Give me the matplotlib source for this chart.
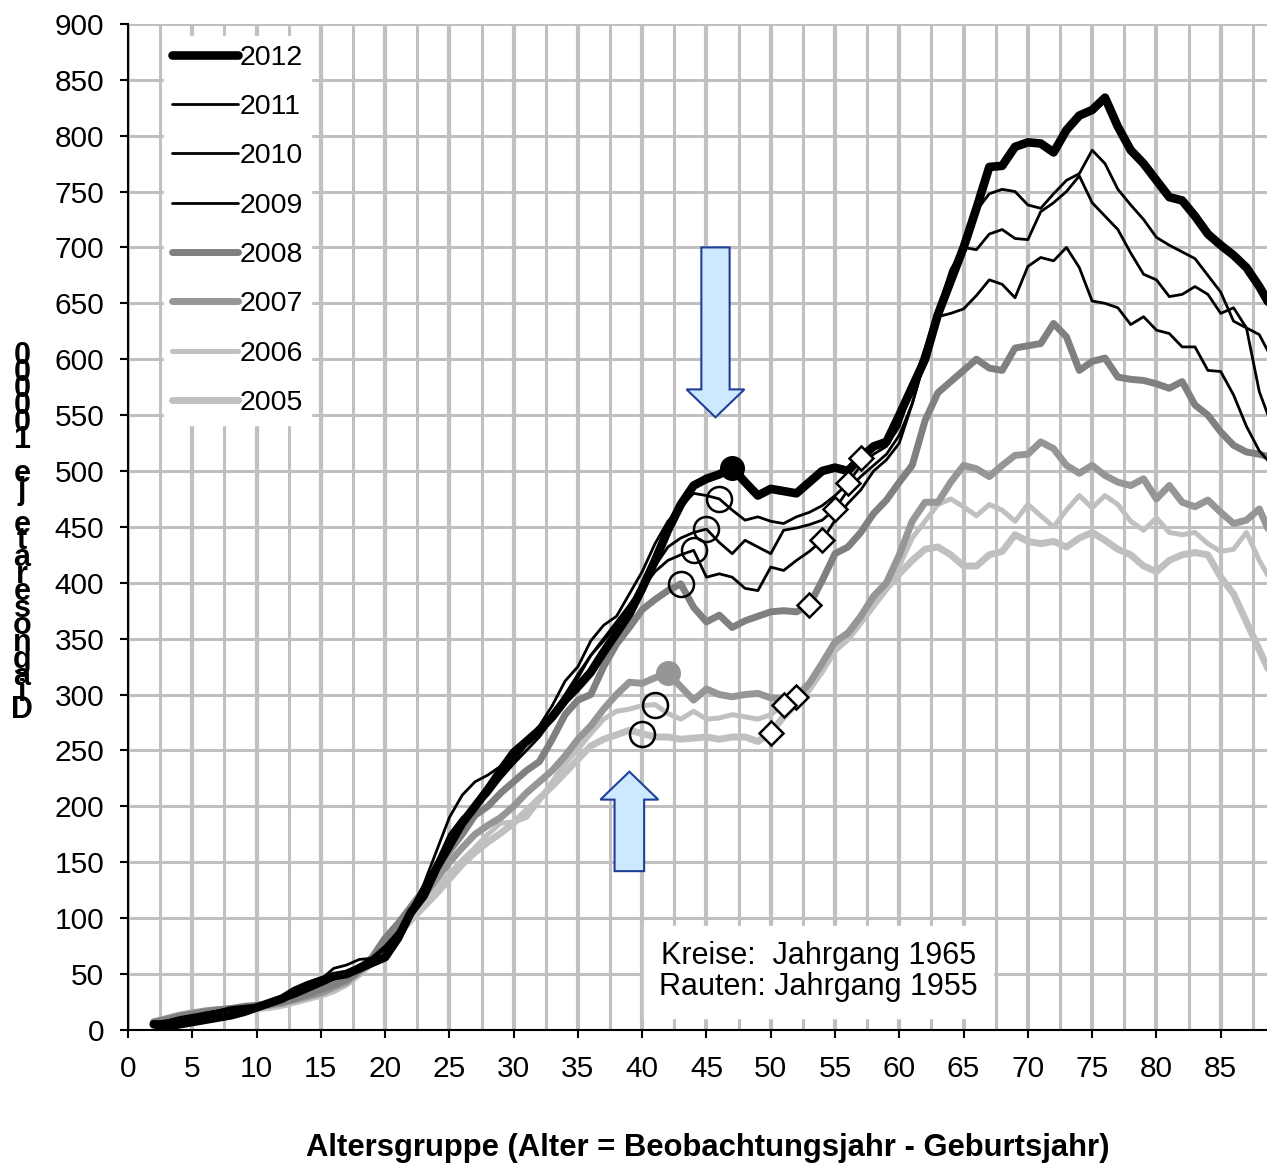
import numpy as np
import matplotlib
matplotlib.use("Agg")
import matplotlib.pyplot as plt
import matplotlib.patches as mpatches

plt.rcParams['font.family'] = ['Liberation Sans', 'DejaVu Sans']

# Altersgruppen 2..89
ages = np.arange(2, 90)

y2012 = [5, 3, 5, 7, 9, 11, 13, 16, 20, 24, 28, 35, 40, 44, 48, 50, 55, 60, 65,
         82, 105, 120, 145, 165, 185, 200, 215, 232, 248, 258, 268, 280, 295, 307,
         320, 338, 355, 372, 395, 420, 447, 470, 487, 493, 497, 503,
         490, 478, 484, 482, 480, 490, 500, 503, 500, 512, 522, 526, 550,
         575, 600, 640, 670, 700, 735, 772, 773, 790, 794, 793, 785, 805, 818, 823,
         834, 808, 787, 775, 760, 745, 742, 728, 712, 702, 693, 682, 665, 645]
y2011 = [6, 7, 9, 11, 13, 16, 18, 20, 22, 24, 28, 33, 40, 45, 55, 58, 63, 64, 72,
         85, 108, 130, 160, 190, 210, 222, 228, 236, 250, 260, 272, 290, 312, 325,
         348, 362, 370, 390, 410, 435, 455, 468, 480, 478, 475, 465,
         456, 459, 455, 453, 459, 463, 469, 478, 489, 505, 515, 522, 540,
         575, 610, 645, 675, 705, 733, 748, 752, 750, 738, 735, 748, 760, 766, 787,
         775, 752, 738, 725, 709, 702, 696, 690, 675, 660, 634, 628, 622, 600]
y2010 = [6, 8, 10, 12, 15, 17, 19, 21, 22, 24, 27, 32, 37, 42, 48, 52, 58, 63, 73,
         85, 105, 125, 150, 175, 190, 200, 210, 225, 238, 250, 262, 278, 295, 315,
         335, 350, 365, 380, 397, 415, 432, 440, 445, 448, 436, 426,
         438, 432, 426, 447, 449, 452, 456, 466, 483, 495, 505, 515, 532,
         560, 600, 645, 680, 700, 698, 712, 716, 708, 707, 732, 740, 750, 764, 740,
         728, 716, 695, 676, 671, 656, 658, 665, 658, 641, 646, 628, 571, 540]
y2009 = [7, 8, 11, 13, 15, 17, 20, 21, 22, 23, 26, 30, 35, 40, 45, 50, 58, 65, 75,
         88, 105, 122, 145, 165, 185, 200, 212, 228, 240, 255, 265, 282, 300, 318,
         335, 348, 362, 380, 395, 410, 420, 425, 429, 405, 408, 405,
         395, 393, 414, 411, 420, 428, 438, 456, 471, 483, 500, 510, 525,
         560, 600, 638, 641, 645, 657, 671, 667, 655, 683, 691, 688, 700, 682, 652,
         650, 646, 631, 638, 626, 623, 611, 611, 590, 589, 568, 540, 518, 505]
y2008 = [7, 9, 12, 14, 16, 18, 19, 21, 22, 23, 25, 28, 32, 36, 40, 45, 53, 65, 82,
         95, 110, 125, 145, 160, 175, 192, 200, 212, 222, 232, 240, 260, 282, 295,
         300, 325, 345, 360, 376, 385, 393, 399, 378, 365, 371, 360,
         366, 370, 374, 375, 374, 380, 402, 426, 432, 445, 462, 474, 490,
         505, 545, 570, 580, 590, 600, 592, 590, 610, 612, 614, 632, 620, 590, 598,
         601, 584, 582, 581, 578, 574, 580, 559, 550, 535, 523, 517, 515, 512]
y2007 = [7, 10, 13, 15, 17, 18, 19, 20, 21, 22, 24, 27, 30, 33, 38, 43, 52, 63, 78,
         92, 105, 120, 135, 150, 163, 175, 183, 190, 200, 212, 222, 232, 245, 260,
         272, 287, 300, 311, 310, 315, 319, 307, 295, 305, 300, 298,
         300, 301, 297, 296, 298, 310, 328, 347, 355, 370, 388, 400, 425,
         455, 472, 472, 490, 505, 502, 495, 505, 514, 515, 526, 520, 505, 498, 505,
         496, 490, 487, 493, 475, 487, 472, 468, 474, 463, 453, 456, 466, 440]
y2006 = [7, 10, 13, 15, 16, 17, 18, 19, 20, 21, 23, 26, 29, 32, 36, 42, 52, 62, 75,
         88, 102, 115, 128, 140, 152, 163, 175, 185, 186, 190, 205, 222, 238, 251,
         265, 278, 285, 287, 290, 291, 283, 278, 285, 278, 279, 282,
         280, 278, 282, 291, 296, 305, 320, 340, 352, 368, 385, 400, 415,
         440, 455, 470, 475, 468, 460, 470, 465, 455, 470, 460, 450, 465, 478, 467,
         478, 470, 455, 447, 458, 445, 443, 445, 435, 428, 430, 445, 420, 400]
y2005 = [7, 10, 13, 15, 16, 17, 18, 19, 19, 20, 22, 25, 28, 31, 35, 41, 50, 60, 72,
         85, 98, 110, 122, 135, 148, 159, 168, 176, 185, 196, 207, 218, 230, 242,
         254, 260, 264, 268, 265, 262, 262, 260, 261, 262, 260, 262,
         262, 258, 266, 280, 292, 305, 322, 340, 350, 365, 380, 395, 408,
         420, 430, 432, 425, 415, 415, 425, 428, 443, 437, 435, 437, 432, 440, 445,
         438, 430, 425, 415, 410, 420, 425, 427, 425, 405, 390, 365, 340, 315]

years = [2012, 2011, 2010, 2009, 2008, 2007, 2006, 2005]
series = [y2012, y2011, y2010, y2009, y2008, y2007, y2006, y2005]
colors = ['#000000', '#000000', '#000000', '#000000', '#808080', '#969696', '#c0c0c0', '#c0c0c0']
widths = [6.2, 2.0, 2.0, 2.0, 5.0, 5.0, 3.6, 5.0]

fig = plt.figure(figsize=(12.67, 11.65), dpi=100)
ax = fig.add_axes([0.101, 0.116, 0.899, 0.8635])

# Gitter
ax.set_xlim(0, 88.6)
ax.set_ylim(0, 900)
ax.set_xticks(np.arange(0, 90, 5))
ax.set_xticks(np.arange(2.5, 90, 5), minor=True)
ax.set_yticks(np.arange(0, 901, 50))
ax.grid(axis='x', which='major', color='#c0c0c0', lw=3.0, zorder=0)
ax.grid(axis='x', which='minor', color='#c0c0c0', lw=2.2, zorder=0)
ax.grid(axis='y', which='major', color='#c0c0c0', lw=2.2, zorder=0)
ax.set_axisbelow(True)
for s in ['top', 'right']:
    ax.spines[s].set_visible(False)
ax.spines['left'].set_linewidth(1.5)
ax.spines['bottom'].set_linewidth(1.5)
ax.tick_params(axis='both', which='major', direction='out', length=6, width=1.5,
               labelsize=21.5)
ax.tick_params(axis='y', which='major', pad=11)
ax.tick_params(axis='x', which='major', pad=12)
ax.tick_params(axis='x', which='minor', length=0)

# Linien (2005 zuerst, 2012 oben)
lines = {}
for yr, ys, c, w in reversed(list(zip(years, series, colors, widths))):
    ln, = ax.plot(ages, ys, color=c, lw=w, solid_joinstyle='round',
                  solid_capstyle='round', zorder=3, label=str(yr))
    lines[yr] = ln

# Kreise: Jahrgang 1965, Rauten: Jahrgang 1955
for yr, ys, c in zip(years, series, colors):
    a = yr - 1965
    v = ys[a - ages[0]]
    if yr in (2012, 2007):
        ax.plot(a, v, 'o', ms=17, mfc=c, mec=c, zorder=5)
    else:
        ax.plot(a, v, 'o', ms=18, mfc='none', mec='black', mew=1.8, zorder=5)
    a = yr - 1955
    v = ys[a - ages[0]]
    ax.plot(a, v, 'D', ms=12, mfc='white', mec='black', mew=1.8, zorder=5)

# Pfeile
ax.add_patch(mpatches.FancyArrow(45.7, 700, 0, -152, width=2.2, head_width=4.5,
                                 head_length=25, length_includes_head=True,
                                 fc='#cce9ff', ec='#1f3f99', lw=1.5, zorder=6))
ax.add_patch(mpatches.FancyArrow(39.0, 142, 0, 89, width=2.3, head_width=4.5,
                                 head_length=25, length_includes_head=True,
                                 fc='#cce9ff', ec='#1f3f99', lw=1.5, zorder=6))

# Legende
handles = [lines[yr] for yr in years]
leg = ax.legend(handles=handles, labels=[str(y) for y in years], loc='upper left',
                bbox_to_anchor=(0.019, 1.002), fontsize=20.5, frameon=True,
                fancybox=False, edgecolor='white', framealpha=1,
                handlelength=2.3, handletextpad=0.05, labelspacing=0.82,
                borderpad=0.3)
leg.set_zorder(10)

# Textkasten
ax.text(53.7, 52, "Kreise:  Jahrgang 1965\nRauten: Jahrgang 1955",
        ha='center', va='center', fontsize=22, linespacing=1.05, zorder=7,
        bbox=dict(boxstyle='square,pad=0.5', fc='white', ec='white'))

# Achsentitel
ylab = "Diagnoserate je 100000"
fig.text(22 / 1267, 1 - 533 / 1165, "\n".join(reversed(ylab)), ha='center',
         va='center', fontsize=22, fontweight='bold', linespacing=0.43)
fig.text(708 / 1267, 1 - 1148 / 1165,
         "Altersgruppe (Alter = Beobachtungsjahr - Geburtsjahr)",
         ha='center', va='center', fontsize=22.3, fontweight='bold')

fig.savefig("out.png", dpi=100)
